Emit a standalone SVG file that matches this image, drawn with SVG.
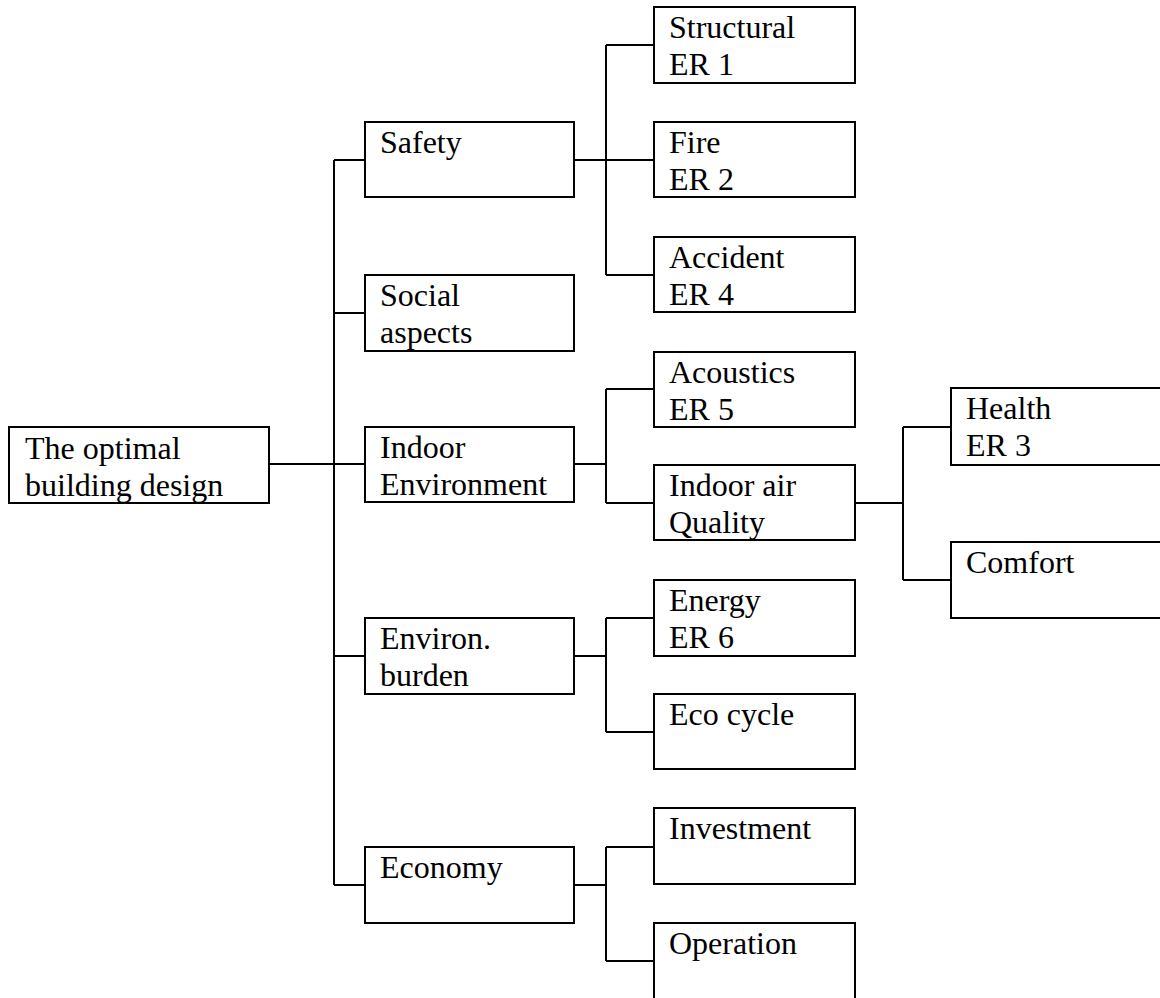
<svg xmlns="http://www.w3.org/2000/svg" width="1160" height="998" viewBox="0 0 1160 998">
<style>
.box{fill:#fff;stroke:#000;stroke-width:2}
.ln{fill:none;stroke:#000;stroke-width:2}
.t{font-family:'Liberation Serif','Times New Roman','DejaVu Serif',serif;font-size:32px;fill:#000}
</style>
<rect width="1160" height="998" fill="#fff"/>
<g id="connectors">
<path class="ln" d="M269,464 H365"/>
<path class="ln" d="M334,160 V885"/>
<path class="ln" d="M334,160 H365 M334,313 H365 M334,656 H365 M334,885 H365"/>
<path class="ln" d="M574,160 H654 M606,45 V275 M606,45 H654 M606,275 H654"/>
<path class="ln" d="M574,464 H606 M606,389 V503 M606,389 H654 M606,503 H654"/>
<path class="ln" d="M574,656 H606 M606,618 V732 M606,618 H654 M606,732 H654"/>
<path class="ln" d="M574,885 H606 M606,847 V961 M606,847 H654 M606,961 H654"/>
<path class="ln" d="M855,503 H903 M903,427 V580 M903,427 H951 M903,580 H951"/>
</g>
<g class="t" font-family="Liberation Serif, Times New Roman, DejaVu Serif, serif">
<g id="root"><rect class="box" x="9" y="427" width="260" height="76"/><text x="25" y="459">The optimal</text><text x="25" y="496">building design</text></g>
<g id="safety"><rect class="box" x="365" y="122" width="209" height="75"/><text x="380" y="153">Safety</text></g>
<g id="social"><rect class="box" x="365" y="275" width="209" height="76"/><text x="380" y="306">Social</text><text x="380" y="343">aspects</text></g>
<g id="indoor-env"><rect class="box" x="365" y="427" width="209" height="75"/><text x="380" y="458">Indoor</text><text x="380" y="495">Environment</text></g>
<g id="environ"><rect class="box" x="365" y="618" width="209" height="76"/><text x="380" y="649">Environ.</text><text x="380" y="686">burden</text></g>
<g id="economy"><rect class="box" x="365" y="847" width="209" height="76"/><text x="380" y="878">Economy</text></g>
<g id="structural"><rect class="box" x="654" y="7" width="201" height="76"/><text x="669" y="38">Structural</text><text x="669" y="75">ER 1</text></g>
<g id="fire"><rect class="box" x="654" y="122" width="201" height="75"/><text x="669" y="153">Fire</text><text x="669" y="190">ER 2</text></g>
<g id="accident"><rect class="box" x="654" y="237" width="201" height="75"/><text x="669" y="268">Accident</text><text x="669" y="305">ER 4</text></g>
<g id="acoustics"><rect class="box" x="654" y="352" width="201" height="75"/><text x="669" y="383">Acoustics</text><text x="669" y="420">ER 5</text></g>
<g id="iaq"><rect class="box" x="654" y="465" width="201" height="75"/><text x="669" y="496">Indoor air</text><text x="669" y="533">Quality</text></g>
<g id="energy"><rect class="box" x="654" y="580" width="201" height="76"/><text x="669" y="611">Energy</text><text x="669" y="648">ER 6</text></g>
<g id="ecocycle"><rect class="box" x="654" y="694" width="201" height="75"/><text x="669" y="725">Eco cycle</text></g>
<g id="investment"><rect class="box" x="654" y="808" width="201" height="76"/><text x="669" y="839">Investment</text></g>
<g id="operation"><rect class="box" x="654" y="923" width="201" height="90"/><text x="669" y="954">Operation</text></g>
<g id="health"><rect class="box" x="951" y="388" width="230" height="77"/><text x="966" y="419">Health</text><text x="966" y="456">ER 3</text></g>
<g id="comfort"><rect class="box" x="951" y="542" width="230" height="76"/><text x="966" y="573">Comfort</text></g>
</g>
</svg>
